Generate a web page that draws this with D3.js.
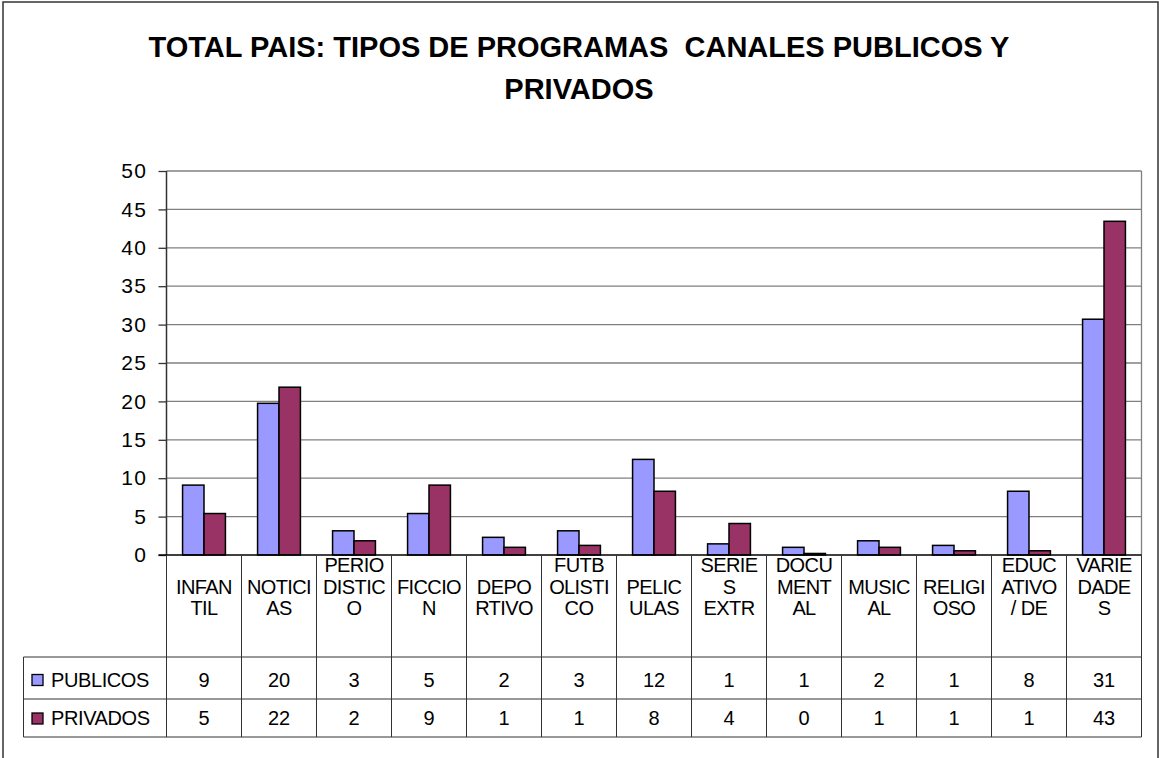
<!DOCTYPE html>
<html>
<head>
<meta charset="utf-8">
<script src="https://cdn.jsdelivr.net/npm/d3@7"></script>
<style>
  html, body { margin: 0; padding: 0; background: #fff; }
  svg { display: block; font-family: "Liberation Sans", Arial, sans-serif; }
</style>
</head>
<body>
<svg id="chart" width="1159" height="758"></svg>
<script>
// ---- DATA ----
const titleLines = ["TOTAL PAIS: TIPOS DE PROGRAMAS  CANALES PUBLICOS Y", "PRIVADOS"];
const categories = ["INFANTIL", "NOTICIAS", "PERIODISTICO", "FICCION", "DEPORTIVO", "FUTBOLISTICO",
  "PELICULAS", "SERIES EXTR", "DOCUMENTAL", "MUSICAL", "RELIGIOSO", "EDUCATIVO / DE", "VARIEDADES"];
const categoryLabelLines = [["INFAN", "TIL"], ["NOTICI", "AS"], ["PERIO", "DISTIC", "O"], ["FICCIO", "N"],
  ["DEPO", "RTIVO"], ["FUTB", "OLISTI", "CO"], ["PELIC", "ULAS"], ["SERIE", "S", "EXTR"],
  ["DOCU", "MENT", "AL"], ["MUSIC", "AL"], ["RELIGI", "OSO"], ["EDUC", "ATIVO", "/ DE"], ["VARIE", "DADE", "S"]];
const seriesNames = ["PUBLICOS", "PRIVADOS"];
const publicos = [9.1, 19.75, 3.15, 5.4, 2.3, 3.15, 12.45, 1.45, 1.0, 1.85, 1.25, 8.3, 30.7];
const privados = [5.4, 21.85, 1.85, 9.1, 1.0, 1.25, 8.3, 4.1, 0.2, 1.0, 0.55, 0.55, 43.45];
const tablePublicos = [9, 20, 3, 5, 2, 3, 12, 1, 1, 2, 1, 8, 31];
const tablePrivados = [5, 22, 2, 9, 1, 1, 8, 4, 0, 1, 1, 1, 43];
const yTicks = [0, 5, 10, 15, 20, 25, 30, 35, 40, 45, 50];
const colors = ["#9999FF", "#993366"];

// ---- LAYOUT ----
const svg = d3.select("#chart");
const plot = { left: 166.5, right: 1141.5, top: 171, bottom: 555 };
const table = { legendLeft: 23.5, catBottom: 657, row1Bottom: 699, row2Bottom: 737 };

// outer frame
svg.append("path")
  .attr("d", `M3,758 V2 H1158 V758`)
  .attr("fill", "none").attr("stroke", "#333").attr("stroke-width", 1.5);

// title
svg.append("g").selectAll("text").data(titleLines).join("text")
  .attr("x", 579).attr("y", (d, i) => 57 + i * 42)
  .attr("text-anchor", "middle")
  .attr("font-size", 29).attr("font-weight", "bold")
  .style("white-space", "pre")
  .text(d => d);

const x = d3.scaleBand().domain(categories).range([plot.left, plot.right]).padding(0);
const xs = d3.scaleBand().domain(seriesNames).range([0, x.bandwidth()]).paddingInner(0).paddingOuter(0.75);
const y = d3.scaleLinear().domain([0, 50]).range([plot.bottom, plot.top]);

// gridlines
svg.append("g").selectAll("line").data(yTicks.filter(t => t > 0)).join("line")
  .attr("x1", plot.left).attr("x2", plot.right)
  .attr("y1", d => y(d)).attr("y2", d => y(d))
  .attr("stroke", "#808080").attr("stroke-width", 1.3);

// plot right border
svg.append("line")
  .attr("x1", plot.right).attr("x2", plot.right)
  .attr("y1", plot.top).attr("y2", plot.bottom)
  .attr("stroke", "#808080").attr("stroke-width", 1.3);

// y axis
const yAxis = d3.axisLeft(y).tickValues(yTicks).tickSize(8).tickPadding(11).tickFormat(d3.format("d"));
const ya = svg.append("g").attr("transform", `translate(${plot.left},0)`).call(yAxis);
ya.select(".domain").remove();
ya.selectAll(".tick line").attr("stroke", "#333").attr("stroke-width", 1.3);
ya.selectAll(".tick text").attr("font-size", 21).attr("fill", "#000")
  .attr("letter-spacing", 1.5)
  .attr("font-family", "Liberation Sans, Arial, sans-serif");
svg.append("line")
  .attr("x1", plot.left).attr("x2", plot.left)
  .attr("y1", plot.top).attr("y2", plot.bottom)
  .attr("stroke", "#333").attr("stroke-width", 1.5);

// bars
const data = categories.map((c, i) => ({ cat: c, vals: [publicos[i], privados[i]] }));
const groups = svg.append("g").selectAll("g").data(data).join("g")
  .attr("transform", d => `translate(${x(d.cat)},0)`);
groups.selectAll("rect").data(d => d.vals.map((v, j) => ({ s: seriesNames[j], v, j }))).join("rect")
  .attr("x", d => xs(d.s)).attr("width", xs.bandwidth())
  .attr("y", d => y(d.v)).attr("height", d => y(0) - y(d.v))
  .attr("fill", d => colors[d.j]).attr("stroke", "#000").attr("stroke-width", 1.5);

// zero line
svg.append("line")
  .attr("x1", plot.left - 8).attr("x2", plot.right)
  .attr("y1", y(0)).attr("y2", y(0))
  .attr("stroke", "#000").attr("stroke-width", 1.5);

// ---- DATA TABLE ----
const tg = svg.append("g");
const lineCol = "#333";
const edges = categories.map(c => x(c)).concat([plot.right]);
tg.selectAll("line.v").data(edges).join("line").attr("class", "v")
  .attr("x1", d => d).attr("x2", d => d)
  .attr("y1", plot.bottom).attr("y2", table.row2Bottom)
  .attr("stroke", lineCol).attr("stroke-width", 1);
[table.catBottom, table.row1Bottom, table.row2Bottom].forEach(yy => {
  tg.append("line").attr("x1", table.legendLeft).attr("x2", plot.right)
    .attr("y1", yy).attr("y2", yy).attr("stroke", lineCol).attr("stroke-width", 1);
});
tg.append("line").attr("x1", table.legendLeft).attr("x2", table.legendLeft)
  .attr("y1", table.catBottom).attr("y2", table.row2Bottom)
  .attr("stroke", lineCol).attr("stroke-width", 1);

// category labels (last line anchored)
const lineH = 21.5;
const lastLineBaseline = 615;
const catG = tg.selectAll("g.cat").data(categories).join("g").attr("class", "cat")
  .attr("transform", c => `translate(${x(c) + x.bandwidth() / 2},0)`);
catG.selectAll("text").data((c, i) => categoryLabelLines[i].map((t, k, arr) => ({ t, k, n: arr.length }))).join("text")
  .attr("text-anchor", "middle")
  .attr("y", d => lastLineBaseline - (d.n - 1 - d.k) * lineH)
  .attr("font-size", 20)
  .attr("letter-spacing", -0.6)
  .text(d => d.t);

// table rows
const rows = [tablePublicos, tablePrivados];
const rowCenters = [679.5, 718];
rows.forEach((vals, r) => {
  tg.append("g").selectAll("text").data(categories).join("text")
    .attr("x", c => x(c) + x.bandwidth() / 2)
    .attr("y", rowCenters[r] + 7.2)
    .attr("text-anchor", "middle").attr("font-size", 20)
    .text((c, i) => vals[i]);
  tg.append("rect")
    .attr("x", 32).attr("y", rowCenters[r] - 5).attr("width", 11).attr("height", 11)
    .attr("fill", colors[r]).attr("stroke", "#000").attr("stroke-width", 1.3);
  tg.append("text")
    .attr("x", 51).attr("y", rowCenters[r] + 7.2).attr("font-size", 20)
    .attr("letter-spacing", -0.4)
    .text(seriesNames[r]);
});
</script>
</body>
</html>
